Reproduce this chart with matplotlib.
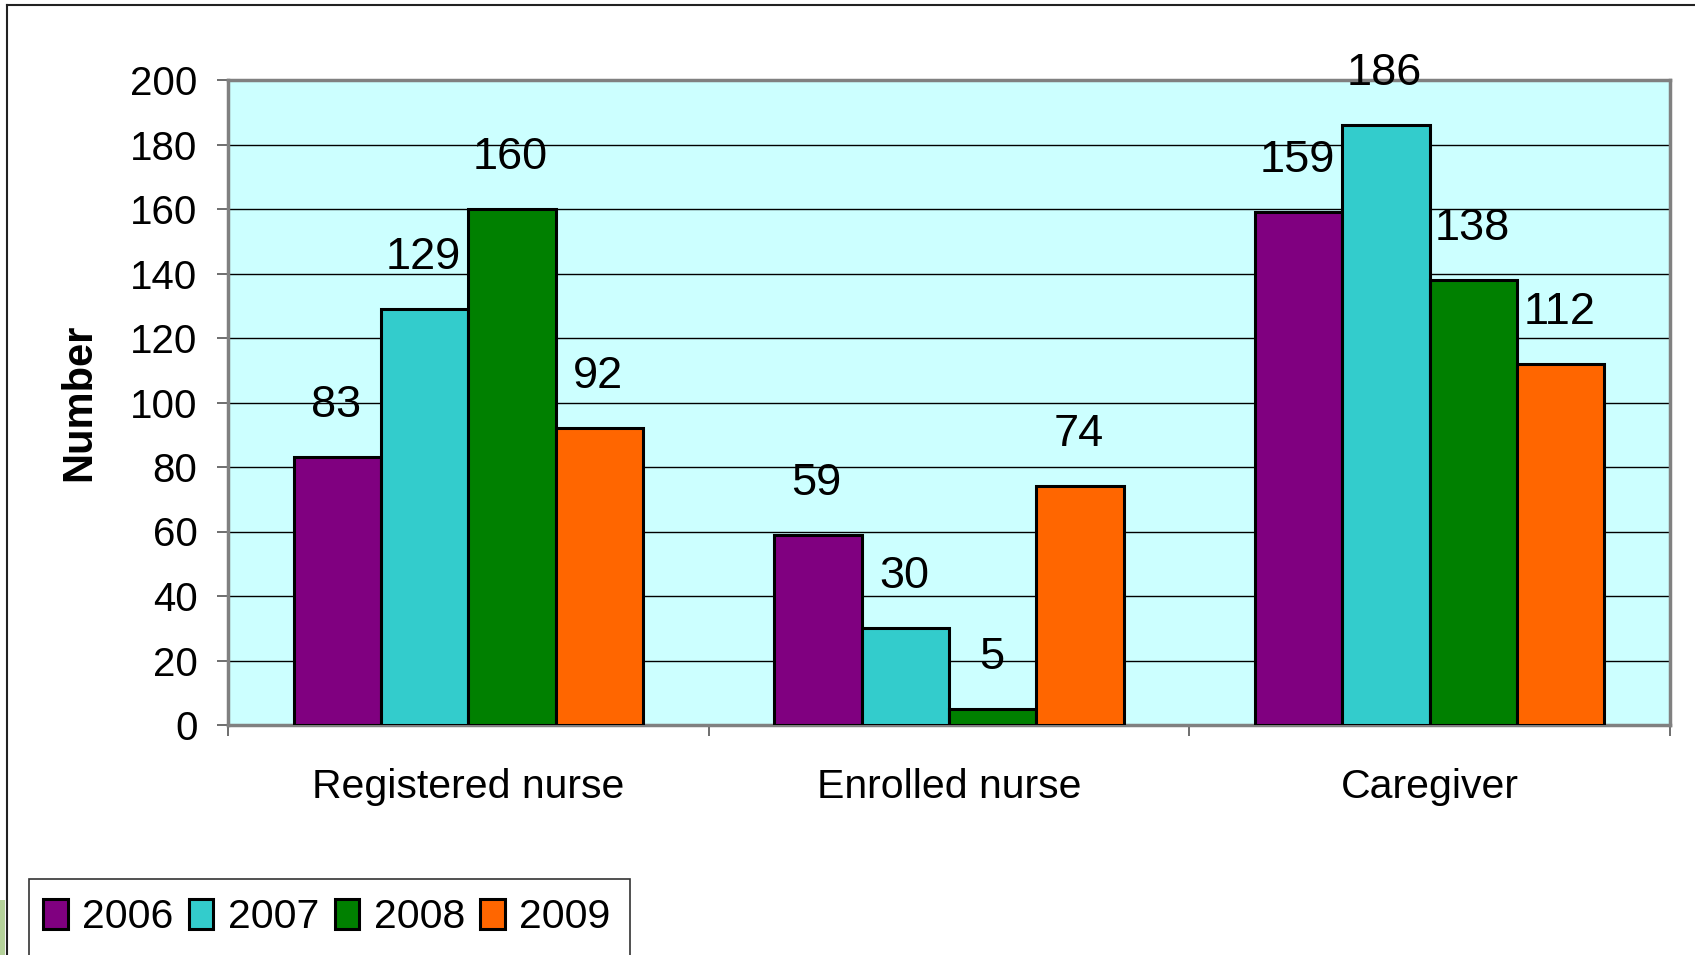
import numpy as np
import matplotlib
matplotlib.use("Agg")
import matplotlib.pyplot as plt
from matplotlib.patches import Patch, Rectangle
from matplotlib.lines import Line2D

plt.rcParams["font.family"] = ["Liberation Sans", "DejaVu Sans"]

categories = ["Registered nurse", "Enrolled nurse", "Caregiver"]
years = ["2006", "2007", "2008", "2009"]
v2006 = [83, 59, 159]
v2007 = [129, 30, 186]
v2008 = [160, 5, 138]
v2009 = [92, 74, 112]
series = [v2006, v2007, v2008, v2009]
colors = ["#800080", "#33CCCC", "#008000", "#FF6600"]

W, H = 1695, 955
fig = plt.figure(figsize=(W / 100, H / 100), dpi=100)
ax = fig.add_axes([228 / W, 1 - 725 / H, (1670 - 228) / W, (725 - 80) / H])
ax.set_facecolor("#CCFFFF")

x = np.arange(len(categories))
bw = 1 / 5.5
for i, (vals, c) in enumerate(zip(series, colors)):
    pos = x + (i - 1.5) * bw
    ax.bar(pos, vals, width=bw, color=c, edgecolor="black", linewidth=2.2, zorder=3)
    for p, v in zip(pos, vals):
        ax.annotate(str(v), (p, v), xytext=(-1, 37), textcoords="offset points",
                    ha="center", va="center", fontsize=32.5, annotation_clip=False,
                    zorder=4)

ax.set_xlim(-0.5, 2.5)
ax.set_ylim(0, 200)
ax.set_yticks(np.arange(0, 201, 20))
ax.yaxis.grid(True, color="black", linewidth=1.0, zorder=1)
ax.set_axisbelow(True)

ax.set_xticks(x)
ax.set_xticklabels(categories)
ax.set_xticks([-0.5, 0.5, 1.5, 2.5], minor=True)
ax.tick_params(axis="x", which="major", length=0, pad=31, labelsize=29.5)
ax.tick_params(axis="x", which="minor", length=8, width=1.2, color="#555555")
ax.tick_params(axis="y", length=8, width=1.2, color="#555555", pad=14, labelsize=29)

for s in ax.spines.values():
    s.set_color("#808080")
    s.set_linewidth(2.5)

ax.set_ylabel("Number", fontsize=30, fontweight="bold")
ax.yaxis.set_label_coords(-129 / (1670 - 228), 0.5)

# legend: frame drawn by hand, it runs off the bottom of the slide
fig.add_artist(Rectangle((29 / W, -10 / H), (630 - 29) / W, (955 - 879 + 10) / H,
                         transform=fig.transFigure, facecolor="white",
                         edgecolor="#333333", linewidth=1.2))
handles = [Patch(facecolor=c, edgecolor="black", linewidth=2.2) for c in colors]
leg = fig.legend(handles, years, loc="center left", bbox_to_anchor=(43 / W, 1 - 917 / H),
                 ncol=4, fontsize=29.5, frameon=False,
                 handlelength=0.6, handleheight=0.75, handletextpad=0.35,
                 columnspacing=0.38, borderpad=0, borderaxespad=0)

# slide frame lines and background fragment
fig.add_artist(Rectangle((0, 0), 5 / W, 55 / H, transform=fig.transFigure,
                         facecolor="#B5D29A", edgecolor="none"))
fig.add_artist(Line2D([6.5 / W, 6.5 / W], [0, 1 - 5 / H], transform=fig.transFigure,
                      color="#222222", linewidth=1.5))
fig.add_artist(Line2D([6.5 / W, 1], [1 - 5 / H, 1 - 5 / H], transform=fig.transFigure,
                      color="#222222", linewidth=1.5))

fig.savefig("out.png", dpi=100)
